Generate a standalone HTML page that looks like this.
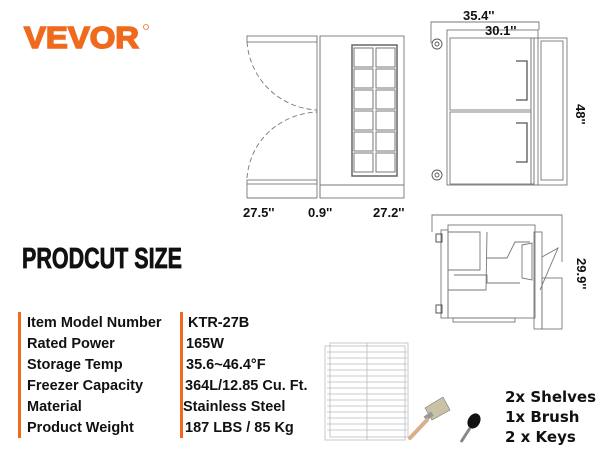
<!DOCTYPE html>
<html><head><meta charset="utf-8"><style>
html,body{margin:0;padding:0;background:#fff;}
svg{display:block;}
</style></head><body>
<svg width="600" height="450" xmlns="http://www.w3.org/2000/svg" font-family="Liberation Sans, sans-serif">
<rect width="600" height="450" fill="#fff"/>
<!-- logo -->
<text x="24" y="48" font-size="31" font-weight="bold" fill="#f06a1e" stroke="#f06a1e" stroke-width="1.6" textLength="115" lengthAdjust="spacingAndGlyphs" font-family="Liberation Sans, sans-serif">VEVOR</text>
<circle cx="146" cy="27" r="2.5" fill="none" stroke="#f06a1e" stroke-width="0.8"/>

<!-- top view -->
<g stroke="#777" fill="none" stroke-width="0.9">
<rect x="247" y="36" width="70" height="6"/>
<line x1="317" y1="36" x2="317" y2="198"/>
<line x1="320" y1="36" x2="320" y2="198"/>
<rect x="320" y="36" width="84" height="162"/>
<line x1="320" y1="185" x2="404" y2="185"/>
<rect x="247" y="180" width="70" height="4"/>
<line x1="247" y1="184" x2="247" y2="198"/>
<line x1="247" y1="198" x2="317" y2="198"/>
<path d="M247,42 C250,80 280,108 317,110" stroke-dasharray="5,3"/>
<path d="M247,178 C250,140 280,114 317,112" stroke-dasharray="5,3"/>
<rect x="352" y="45" width="45" height="131" stroke="#666" stroke-width="1.5"/>
</g>
<g stroke="#777" fill="#fff" stroke-width="1">
<rect x="354" y="48" width="19" height="19"/><rect x="376" y="48" width="19" height="19"/>
<rect x="354" y="69" width="19" height="19"/><rect x="376" y="69" width="19" height="19"/>
<rect x="354" y="90" width="19" height="19"/><rect x="376" y="90" width="19" height="19"/>
<rect x="354" y="111" width="19" height="19"/><rect x="376" y="111" width="19" height="19"/>
<rect x="354" y="132" width="19" height="19"/><rect x="376" y="132" width="19" height="19"/>
<rect x="354" y="153" width="19" height="19"/><rect x="376" y="153" width="19" height="19"/>
</g>
<g font-size="13" fill="#111" font-weight="bold">
<text x="243" y="217">27.5''</text>
<text x="308" y="217">0.9''</text>
<text x="373" y="217">27.2''</text>
</g>

<!-- front view -->
<g stroke="#777" fill="none" stroke-width="0.9">
<polyline points="431,43 431,22 539,22 539,30"/>
<rect x="447" y="30" width="91" height="155"/>
<rect x="450" y="38" width="81" height="72"/>
<rect x="450" y="112" width="81" height="72"/>
<rect x="531" y="38" width="3" height="146"/>
<rect x="534" y="38" width="33" height="147"/>
<rect x="541" y="41" width="22" height="139"/>
<polyline points="516,61 527,61 527,100 516,100" stroke="#555" stroke-width="1.3"/>
<polyline points="516,123 527,123 527,162 516,162" stroke="#555" stroke-width="1.3"/>
<circle cx="437" cy="44" r="5" stroke="#555"/><circle cx="437" cy="44" r="2" stroke="#555"/>
<circle cx="437" cy="175" r="5" stroke="#555"/><circle cx="437" cy="175" r="2" stroke="#555"/>
</g>
<text x="463" y="20" font-size="13" fill="#111" font-weight="bold">35.4''</text>
<text x="485" y="35" font-size="13" fill="#111" font-weight="bold">30.1''</text>
<text transform="translate(576,104) rotate(90)" font-size="13" fill="#111" font-weight="bold">48''</text>

<!-- side view -->
<g stroke="#777" fill="none" stroke-width="0.9">
<polyline points="432,232 432,215 562,215 562,262"/>
<rect x="448" y="225" width="87" height="93"/>
<rect x="441" y="230" width="7" height="88"/>
<polyline points="448,232 480,232 480,270 448,270"/>
<polyline points="487,232 486,290 448,290"/>
<polyline points="487,258 507,258 515,242 530,242"/>
<polyline points="454,275 487,275 487,283 520,283"/>
<rect x="453" y="318" width="62" height="4"/>
<rect x="534" y="232" width="8" height="97"/>
<rect x="542" y="278" width="20" height="51"/>
<polyline points="542,257 558,248 540,290"/>
<path d="M522,245 L532,243 L532,280 L522,278 Z"/>
<rect x="436" y="234" width="6" height="8" stroke="#444"/>
<rect x="436" y="305" width="6" height="8" stroke="#444"/>
</g>
<text transform="translate(577,258) rotate(90)" font-size="13" fill="#111" font-weight="bold">29.9''</text>

<!-- heading -->
<text x="22" y="268" font-size="29" font-weight="bold" fill="#111" stroke="#111" stroke-width="0.8" textLength="160" lengthAdjust="spacingAndGlyphs">PRODCUT SIZE</text>

<!-- table -->
<rect x="18" y="312" width="3" height="126" fill="#f06a1e"/>
<rect x="180" y="312" width="3" height="126" fill="#f06a1e"/>
<g font-size="14.5" font-weight="bold" fill="#111">
<text x="27" y="327">Item Model Number</text>
<text x="27" y="348">Rated Power</text>
<text x="27" y="369">Storage Temp</text>
<text x="27" y="390">Freezer Capacity</text>
<text x="27" y="411">Material</text>
<text x="27" y="432">Product Weight</text>
<text x="188" y="327">KTR-27B</text>
<text x="186" y="348">165W</text>
<text x="186" y="369">35.6~46.4°F</text>
<text x="185" y="390">364L/12.85 Cu. Ft.</text>
<text x="183" y="411">Stainless Steel</text>
<text x="185" y="432">187 LBS / 85 Kg</text>
</g>

<!-- shelves -->
<g stroke="#bbb" fill="none" stroke-width="0.8">
<rect x="325" y="346" width="80" height="94"/>
<rect x="330" y="343" width="78" height="94"/>
<line x1="367" y1="343" x2="367" y2="440"/>
<path d="M327,352h80M327,358h80M327,364h80M327,370h80M327,376h80M327,382h80M327,388h80M327,394h80M327,400h80M327,406h80M327,412h80M327,418h80M327,424h80M327,430h80"/>
</g>
<!-- brush -->
<polygon points="425,408 443,397 450,410 432,420" fill="#c9c2a6" stroke="#777" stroke-width="0.6"/>
<rect x="424" y="414" width="9" height="5" transform="rotate(-35 428 416)" fill="#999"/>
<line x1="427" y1="420" x2="410" y2="438" stroke="#d9b08a" stroke-width="4" stroke-linecap="round"/>
<!-- key -->
<ellipse cx="474" cy="421" rx="6" ry="8" transform="rotate(30 474 421)" fill="#111"/>
<line x1="470" y1="428" x2="461" y2="442" stroke="#888" stroke-width="3"/>

<g font-size="15" font-weight="bold" fill="#111" font-family="DejaVu Sans, sans-serif">
<text x="505" y="402">2x Shelves</text>
<text x="505" y="422">1x Brush</text>
<text x="505" y="442">2 x Keys</text>
</g>
</svg>
</body></html>
